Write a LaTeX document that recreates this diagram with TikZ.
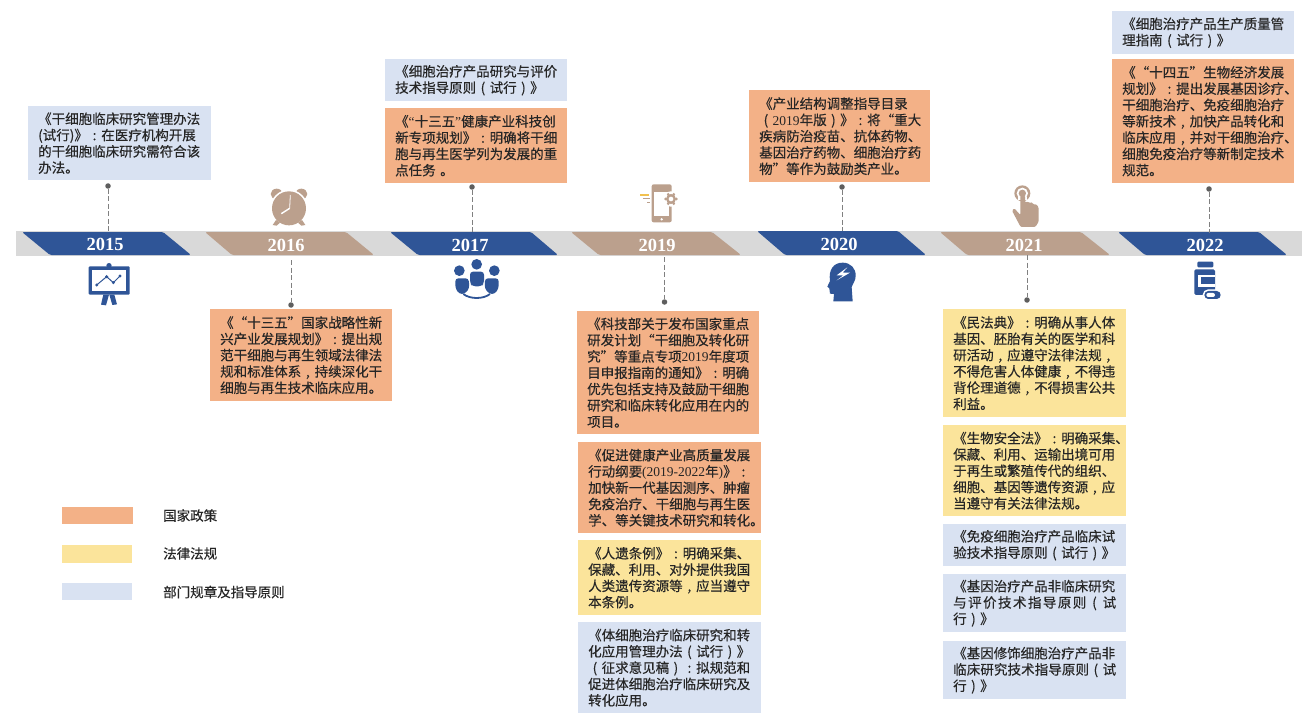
\documentclass[tikz,border=0pt]{standalone}
\usepackage{fontspec}
\setmainfont[FakeBold=0.4]{Noto Sans CJK SC}
\newfontfamily\serfont{Liberation Serif}
\newcommand{\ser}[1]{{\serfont #1}}
\newcommand{\fwcell}[1]{\makebox[1em][c]{#1}}
\newcommand{\fullline}[1]{\makebox[163pt][s]{#1}}
\catcode`（=13 \def（{\fwcell{(}}
\catcode`）=13 \def）{\fwcell{)}}
\catcode`：=13 \def：{\fwcell{:}}
\catcode`，=13 \def，{\fwcell{,}}
\definecolor{polcol}{HTML}{F3B187}
\definecolor{lawcol}{HTML}{FBE49B}
\definecolor{regcol}{HTML}{D9E2F2}
\definecolor{ribblue}{HTML}{2F5597}
\definecolor{ribtan}{HTML}{BBA08D}
\definecolor{bandgray}{HTML}{D9D9D9}
\definecolor{dotgray}{HTML}{5E5E5E}
\definecolor{dashgray}{HTML}{808080}
\definecolor{txtcol}{HTML}{262626}
\definecolor{phoneyellow}{HTML}{F2C14E}
\tikzset{
  textbox/.style={inner xsep=0pt,inner ysep=0pt,align=left,text=txtcol,font=\fontsize{13.5}{16.3}\selectfont},
  pol/.style={textbox,fill=polcol},
  law/.style={textbox,fill=lawcol},
  reg/.style={textbox,fill=regcol},
  yearlabel/.style={text=white,font=\fontsize{18.5}{20}\serfont\bfseries\selectfont,inner sep=0pt},
  legendlabel/.style={text=txtcol,font=\fontsize{13.5}{16}\selectfont,inner sep=0pt,anchor=west},
  pindot/.style={circle,fill=dotgray,inner sep=0pt,minimum size=5.5pt},
  stem/.style={draw=dashgray,line width=0.8pt,dash pattern=on 5pt off 2.5pt},
  zoomed/.style={x=0.33333pt,y=-0.33333pt}
}
% name, style, x0, y0, x1, y1, text
\newcommand{\pbox}[7]{%
  \pgfmathsetmacro{\bw}{#5-#3}\pgfmathsetmacro{\bh}{#6-#4}\pgfmathsetmacro{\tw}{\bw-20}%
  \node[#2,anchor=north west,text width=\tw pt,inner xsep=10pt,minimum width=\bw pt,minimum height=\bh pt] (#1) at (#3,#4) {#7};}
% name, colour, TL, TR, BR, BL, y0, y1
\newcommand{\ribbon}[8]{%
  \fill[#2,rounded corners=1.5pt] (#3,#7) -- (#4,#7) -- (#5,#8) -- (#6,#8) -- cycle;
  \coordinate (#1) at (#4,#7);}
\begin{document}
\begin{tikzpicture}[x=1pt,y=-1pt]
\useasboundingbox (0,0) rectangle (1316,722);
\fill[white] (0,0) rectangle (1316,722);
% band
\fill[bandgray] (16,231) rectangle (1302,256);
% ribbons
\ribbon{r15}{ribblue}{22}{163}{191}{50}{232}{255}
\ribbon{r16}{ribtan}{205}{346}{374}{232}{232}{255}
\ribbon{r17}{ribblue}{390}{531}{558}{418}{232}{255}
\ribbon{r19}{ribtan}{571}{712}{741}{599}{232}{255}
\ribbon{r20}{ribblue}{757}{898}{926}{785}{231}{255}
\ribbon{r21}{ribtan}{940}{1081}{1110}{967}{232}{255}
\ribbon{r22}{ribblue}{1118}{1259}{1287}{1145}{232}{255}
\node[yearlabel] (y15) at (105,244) {2015};
\node[yearlabel] (y16) at (286,245) {2016};
\node[yearlabel] (y17) at (470,245) {2017};
\node[yearlabel] (y19) at (657,245) {2019};
\node[yearlabel] (y20) at (839,244) {2020};
\node[yearlabel] (y21) at (1024,245) {2021};
\node[yearlabel] (y22) at (1205,245) {2022};
% stems
\node[pindot] (d15) at (108,186) {};
\coordinate (e15) at (108,232);
\draw[stem] (d15) -- (e15);
\node[pindot] (d16) at (291,305) {};
\coordinate (e16) at (291,260);
\draw[stem] (e16) -- (d16);
\node[pindot] (d17) at (472,187) {};
\coordinate (e17) at (472,232);
\draw[stem] (d17) -- (e17);
\node[pindot] (d19) at (664.5,302) {};
\coordinate (e19) at (664.5,257);
\draw[stem] (e19) -- (d19);
\node[pindot] (d20) at (842,187) {};
\coordinate (e20) at (842,231);
\draw[stem] (d20) -- (e20);
\node[pindot] (d21) at (1027,300) {};
\coordinate (e21) at (1027,255);
\draw[stem] (e21) -- (d21);
\node[pindot] (d22) at (1209,189) {};
\coordinate (e22) at (1209,233);
\draw[stem] (d22) -- (e22);
% text boxes
\pbox{b15}{reg}{28}{106}{211}{180}{《干细胞临床研究管理办法\\(试行)》：在医疗机构开展\\的干细胞临床研究需符合该\\办法。}
\pbox{b17a}{reg}{385}{59}{567}{101}{《细胞治疗产品研究与评价\\技术指导原则（试行）》}
\pbox{b17b}{pol}{385}{108}{567}{183}{《\ser{“}十三五\ser{”}健康产业科技创\\新专项规划》：明确将干细\\胞与再生医学列为发展的重\\点任务 。}
\pbox{b16}{pol}{210}{309}{392}{401}{《“十三五”国家战略性新\\兴产业发展规划》：提出规\\范干细胞与再生领域法律法\\规和标准体系，持续深化干\\细胞与再生技术临床应用。}
\pbox{b19a}{pol}{577}{311}{759}{434}{《科技部关于发布国家重点\\研发计划“干细胞及转化研\\究”等重点专项\ser{2019}年度项\\目申报指南的通知》：明确\\优先包括支持及鼓励干细胞\\研究和临床转化应用在内的\\项目。}
\pbox{b19b}{pol}{578}{442}{761}{533}{《促进健康产业高质量发展\\行动纲要\ser{(2019-2022}年\ser{)}》：\\加快新一代基因测序、肿瘤\\免疫治疗、干细胞与再生医\\学、等关键技术研究和转化。}
\pbox{b19c}{law}{578}{540}{761}{615}{《人遗条例》：明确采集、\\保藏、利用、对外提供我国\\人类遗传资源等，应当遵守\\本条例。}
\pbox{b19d}{reg}{578}{622}{761}{713}{《体细胞治疗临床研究和转\\化应用管理办法（试行）》\\（征求意见稿）：拟规范和\\促进体细胞治疗临床研究及\\转化应用。}
\pbox{b20}{pol}{749}{90}{930}{182}{《产业结构调整指导目录\\（\ser{2019}年版）》：将“重大\\疾病防治疫苗、抗体药物、\\基因治疗药物、细胞治疗药\\物”等作为鼓励类产业。}
\pbox{b21a}{law}{943}{309}{1126}{417}{《民法典》：明确从事人体\\基因、胚胎有关的医学和科\\研活动，应遵守法律法规，\\不得危害人体健康，不得违\\背伦理道德，不得损害公共\\利益。}
\pbox{b21b}{law}{943}{425}{1126}{516}{《生物安全法》：明确采集、\\保藏、利用、运输出境可用\\于再生或繁殖传代的组织、\\细胞、基因等遗传资源，应\\当遵守有关法律法规。}
\pbox{b21c}{reg}{943}{524}{1126}{566}{《免疫细胞治疗产品临床试\\验技术指导原则（试行）》}
\pbox{b21d}{reg}{943}{574}{1126}{632}{《基因治疗产品非临床研究\\\fullline{与\hfil 评\hfil 价\hfil 技\hfil 术\hfil 指\hfil 导\hfil 原\hfil 则\hfil （\hfil 试}\\行）》}
\pbox{b21e}{reg}{943}{641}{1126}{699}{《基因修饰细胞治疗产品非\\\fullline{临\hfil 床\hfil 研\hfil 究\hfil 技\hfil 术\hfil 指\hfil 导\hfil 原\hfil 则\hfil （\hfil 试}\\行）》}
\pbox{b22a}{reg}{1112}{11}{1294}{54}{《细胞治疗产品生产质量管\\理指南（试行）》}
\pbox{b22b}{pol}{1112}{59}{1294}{183}{《“十四五”生物经济发展\\规划》：提出发展基因诊疗、\\干细胞治疗、免疫细胞治疗\\等新技术，加快产品转化和\\临床应用，并对干细胞治疗、\\细胞免疫治疗等新制定技术\\规范。}
% legend
\fill[polcol] (62,507) rectangle (133,524);
\fill[lawcol] (62,545) rectangle (132,563);
\fill[regcol] (62,583) rectangle (132,600);
\node[legendlabel] (l1) at (163,515.5) {国家政策};
\node[legendlabel] (l2) at (163,553.5) {法律法规};
\node[legendlabel] (l3) at (163,592) {部门规章及指导原则};
% icon 2015: chart board
\begin{scope}[shift={(80,180)},zoomed]
  \fill[ribblue,rounded corners=1pt] (26,259) rectangle (149,344);
  \fill[ribblue] (87,257) circle[radius=8];
  \fill[white] (37,269) rectangle (138,332);
  \fill[ribblue] (70,344) -- (87,344) -- (78,376) -- (63,374) -- cycle;
  \fill[ribblue] (88,344) -- (103,344) -- (111,373) -- (97,375) -- cycle;
  \draw[ribblue,line width=1pt] (50,315) -- (80,290) -- (100,308) -- (120,288);
  \foreach \p in {(50,315),(80,290),(100,308),(120,288)} \fill[ribblue] \p circle[radius=5];
\end{scope}
% icon 2016: clock
\begin{scope}[shift={(80,180)},zoomed]
  \fill[ribtan] (590,42) ellipse[x radius=18,y radius=16];
  \fill[ribtan] (664,42) ellipse[x radius=18,y radius=16];
  \fill[white] (627,85) circle[radius=56];
  \fill[ribtan] (627,85) circle[radius=51];
  \fill[ribtan] (588,120) -- (600,128) -- (590,137) -- (578,135) -- cycle;
  \fill[ribtan] (666,120) -- (654,128) -- (664,137) -- (676,135) -- cycle;
  \draw[white,line width=0.8pt] (629,85) -- (631,45);
  \draw[white,line width=1.4pt] (629,85) -- (604,101);
\end{scope}
% icon 2017: people
\begin{scope}[shift={(440,180)},zoomed]
  \fill[ribblue] (110,253) circle[radius=16];
  \fill[ribblue] (58,272) circle[radius=16];
  \fill[ribblue] (163,272) circle[radius=16];
  \fill[ribblue,rounded corners=3pt] (90,275) -- (132,275) -- (132,310) -- (124,319) -- (98,319) -- (90,310) -- cycle;
  \fill[ribblue,rounded corners=3pt] (46,295) -- (86,295) -- (88,325) -- (74,342) -- (58,342) -- (46,325) -- cycle;
  \fill[ribblue,rounded corners=3pt] (135,295) -- (176,295) -- (176,325) -- (164,342) -- (148,342) -- (134,325) -- cycle;
  \draw[ribblue,line width=1.8pt] (70,342) .. controls (90,358) and (130,358) .. (150,342);
\end{scope}
% icon 2019: phone
\begin{scope}[shift={(440,180)},zoomed]
  \fill[ribtan,rounded corners=2pt] (635,13) rectangle (695,127);
  \fill[white] (642,35) rectangle (688,108);
  \fill[white] (665,118) circle[radius=4];
  \fill[white] (693,57) circle[radius=23];
  \fill[ribtan] (693,57) circle[radius=15];
  \foreach \a in {0,60,120,180,240,300}
    \fill[ribtan] ({693+16*cos(\a)},{57+16*sin(\a)}) circle[radius=4.5];
  \fill[white] (693,57) circle[radius=7];
  \fill[phoneyellow] (600,41) rectangle (628,47);
  \fill[ribtan] (608,54) rectangle (630,58);
  \fill[ribtan] (620,65) rectangle (630,69);
\end{scope}
% icon 2020: head
\begin{scope}[shift={(810,180)},zoomed]
  \fill[ribblue] (98,248) .. controls (122,248) and (138,265) .. (137,288)
    .. controls (137,303) and (127,312) .. (125,322) -- (128,364) -- (70,364)
    -- (72,342) -- (60,341) .. controls (57,335) and (59,330) .. (58,325)
    -- (52,320) -- (60,303) .. controls (55,270) and (70,248) .. (98,248) -- cycle;
  \fill[white] (112,262) -- (80,286) -- (100,286) -- (80,301) -- (120,278) -- (98,278) -- cycle;
\end{scope}
% icon 2021: finger
\begin{scope}[shift={(810,180)},zoomed]
  \fill[ribtan] (637,40) circle[radius=24];
  \fill[white] (637,40) circle[radius=17];
  \fill[ribtan] (637,40) circle[radius=11];
  \fill[white] (624,50) rectangle (650,60);
  \fill[ribtan,rounded corners=1.2pt] (631,46) -- (645,46) -- (645,68) -- (655,64) -- (657,70) -- (667,66) -- (669,74) -- (678,72) -- (686,82) -- (686,125) -- (676,141) -- (632,141) -- (606,92) -- (613,85) -- (631,105) -- cycle;
\end{scope}
% icon 2022: bottle
\begin{scope}[shift={(1110,180)},zoomed]
  \fill[ribblue,rounded corners=1pt] (262,245) rectangle (310,262);
  \fill[ribblue,rounded corners=1.5pt] (253,268) -- (315,268) -- (315,345) -- (253,345) -- cycle;
  \fill[white] (264,285) rectangle (316,322);
  \fill[ribblue] (273,292) rectangle (315,312);
  \fill[white,rounded corners=5.5pt] (278,328) rectangle (337,362);
  \fill[ribblue,rounded corners=4pt] (283,333) rectangle (332,357);
  \fill[white,rounded corners=2pt] (289,339) rectangle (315,351);
\end{scope}
\end{tikzpicture}
\end{document}
